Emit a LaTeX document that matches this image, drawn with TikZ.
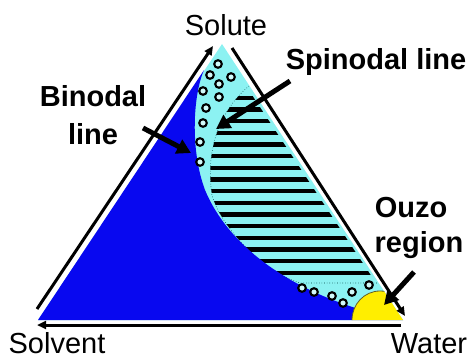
\documentclass[tikz,border=0pt]{standalone}
\usepackage{fontspec}
\setmainfont{Liberation Sans}
\usetikzlibrary{arrows.meta}

\definecolor{phaseblue}{RGB}{8,8,240}
\definecolor{phasecyan}{RGB}{140,242,242}
\definecolor{ouzoyellow}{RGB}{255,238,0}

\begin{document}
\begin{tikzpicture}[x=1pt, y=-1pt,
    lbl/.style={font=\fontsize{29}{31}\selectfont, anchor=base, inner sep=0pt},
    boldlbl/.style={lbl, font=\fontsize{29}{31}\selectfont\bfseries},
    side/.style={line width=3pt, -{Triangle[length=9pt,width=8pt]}},
    pointer/.style={line width=5pt, -{Triangle[length=14pt,width=15pt]}},
    drop/.style={draw=black, line width=2.1pt, fill=phasecyan!40!white},
    spinline/.style={draw=teal!50!black, line width=0.6pt, dotted}
]
    \useasboundingbox (0,0) rectangle (473,358);

    % Corners
    \coordinate (L) at (38,320);
    \coordinate (T) at (222,44);
    \coordinate (R) at (403,320);

    % Two-phase region
    \fill[phasecyan] (L) -- (T) -- (R) -- cycle;

    % Spinodal stripes
    \begin{scope}
        \clip (249,86) .. controls (220,110) and (205,150) .. (212,195)
              .. controls (220,225) and (260,270) .. (300,283) -- (376,283) -- (246,86) -- cycle;
        \foreach \k in {0,...,15}
            \fill (200,{98+11.65*\k-2.2}) rectangle (400,{98+11.65*\k+2.2});
    \end{scope}
    \draw[spinline] (249,86) .. controls (220,110) and (205,150) .. (212,195)
          .. controls (220,225) and (260,270) .. (300,283) -- (378,283);

    % One-phase region
    \fill[phaseblue] (L) -- (204,70) .. controls (193,95) and (190,150) .. (205,190)
          .. controls (230,250) and (300,300) .. (R) -- cycle;

    % Ouzo region
    \begin{scope}
        \clip (L) -- (T) -- (R) -- cycle;
        \fill[ouzoyellow, draw=olive!60!black, line width=0.8pt] (380,320) ellipse [x radius=28, y radius=29];
    \end{scope}

    % Droplets
    \foreach \p in {(218,64),(210,75),(231,77),(219,84),(203,91),(219,97),(206,108),
                    (203,123),(200,142),(200,162),
                    (302,288),(314,292),(332,296),(343,303),(352,292),(369,285)}
        \draw[drop] \p circle [radius=3.8];

    % Labels
    \node[lbl] (solute) at (226,36) {Solute};
    \node[lbl] (solvent) at (57,353) {Solvent};
    \node[lbl] (water) at (429,353) {Water};
    \node[boldlbl] (spinodal) at (376,70) {Spinodal line};
    \node[boldlbl] (binodal) at (93,107) {Binodal};
    \node[boldlbl] (binline) at (93,145) {line};
    \node[boldlbl] (ouzo) at (411,217) {Ouzo};
    \node[boldlbl] (region) at (419,252) {region};

    % Axis arrows
    \coordinate (leftFrom) at (37,309);
    \coordinate (leftTo) at (213,46);
    \coordinate (rightFrom) at (232,48);
    \coordinate (rightTo) at (405,316);
    \coordinate (baseFrom) at (401,325);
    \coordinate (baseTo) at (37,325);
    \draw[side] (leftFrom) -- (leftTo);
    \draw[side] (rightFrom) -- (rightTo);
    \draw[side] (baseFrom) -- (baseTo);

    % Pointers
    \coordinate (binTail) at (143,128);
    \coordinate (binTip) at (191,153);
    \coordinate (spinTail) at (290,81);
    \coordinate (spinTip) at (216,129);
    \coordinate (ouzoTail) at (414,272);
    \coordinate (ouzoTip) at (384,305);
    \draw[pointer] (binTail) -- (binTip);
    \draw[pointer] (spinTail) -- (spinTip);
    \draw[pointer] (ouzoTail) -- (ouzoTip);

\end{tikzpicture}
\end{document}
